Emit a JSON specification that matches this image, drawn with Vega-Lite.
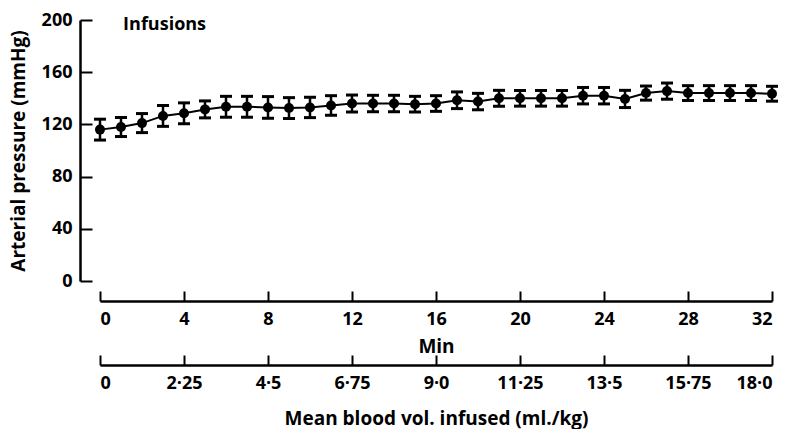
{
  "$schema": "https://vega.github.io/schema/vega-lite/v6.json",
  "width": 672,
  "height": 261,
  "autosize": {"type": "none"},
  "padding": {"left": 100, "top": 20, "right": 15, "bottom": 148},
  "background": "white",
  "config": {
    "view": {"stroke": null},
    "font": "Open Sans",
    "axis": {
      "domainColor": "black", "domainWidth": 2.5, "tickColor": "black", "tickWidth": 2,
      "labelColor": "black", "titleColor": "black", "labelFont": "Open Sans", "titleFont": "Open Sans",
      "labelFontSize": 18, "titleFontSize": 19, "labelFontWeight": "bold", "titleFontWeight": "bold",
      "grid": false
    }
  },
  "data": {
    "values": [
      {"t": 0, "mean": 116, "se": 8},
      {"t": 1, "mean": 118, "se": 7.3},
      {"t": 2, "mean": 121, "se": 7.3},
      {"t": 3, "mean": 126.5, "se": 8},
      {"t": 4, "mean": 128.5, "se": 8},
      {"t": 5, "mean": 131.5, "se": 6.5},
      {"t": 6, "mean": 133.5, "se": 8},
      {"t": 7, "mean": 133.5, "se": 8},
      {"t": 8, "mean": 133, "se": 8.3},
      {"t": 9, "mean": 132.5, "se": 8},
      {"t": 10, "mean": 133, "se": 7.8},
      {"t": 11, "mean": 134.5, "se": 7.5},
      {"t": 12, "mean": 136, "se": 6.5},
      {"t": 13, "mean": 136, "se": 6.3},
      {"t": 14, "mean": 136, "se": 6.3},
      {"t": 15, "mean": 135.5, "se": 6},
      {"t": 16, "mean": 136, "se": 6},
      {"t": 17, "mean": 138.5, "se": 6.4},
      {"t": 18, "mean": 137.5, "se": 6.3},
      {"t": 19, "mean": 140, "se": 6.1},
      {"t": 20, "mean": 140, "se": 6},
      {"t": 21, "mean": 140, "se": 6},
      {"t": 22, "mean": 140, "se": 6},
      {"t": 23, "mean": 142, "se": 6.3},
      {"t": 24, "mean": 142, "se": 6.3},
      {"t": 25, "mean": 139.5, "se": 6.6},
      {"t": 26, "mean": 144, "se": 5.4},
      {"t": 27, "mean": 145.5, "se": 6.2},
      {"t": 28, "mean": 144, "se": 5.7},
      {"t": 29, "mean": 144, "se": 5.7},
      {"t": 30, "mean": 144, "se": 5.7},
      {"t": 31, "mean": 144, "se": 5.7},
      {"t": 32, "mean": 143.5, "se": 5.7}
    ]
  },
  "encoding": {
    "y": {"field": "mean", "type": "quantitative", "scale": {"domain": [0, 200], "nice": false},
      "axis": {"values": [0, 40, 80, 120, 160, 200], "offset": 20, "tickSize": -12, "labelPadding": 20, "title": "Arterial pressure (mmHg)", "titlePadding": 13}}
  },
  "resolve": {"axis": {"x": "independent"}},
  "layer": [
    {
      "mark": {"type": "errorbar", "color": "black", "opacity": 1, "thickness": 2.5,
        "rule": {"color": "black", "opacity": 1, "strokeWidth": 2.5},
        "ticks": {"size": 12, "thickness": 3, "color": "black", "opacity": 1}},
      "encoding": {
        "x": {"field": "t", "type": "quantitative", "scale": {"domain": [0, 32], "nice": false}, "axis": null},
        "yError": {"field": "se"}
      }
    },
    {
      "mark": {"type": "line", "color": "black", "strokeWidth": 2},
      "encoding": {
        "x": {"field": "t", "type": "quantitative", "scale": {"domain": [0, 32], "nice": false},
          "axis": {"values": [0, 4, 8, 12, 16, 20, 24, 28, 32], "offset": 20, "tickSize": -10, "labelPadding": 19, "title": "Min", "titlePadding": 9}}
      }
    },
    {
      "mark": {"type": "point", "shape": "circle", "filled": true, "color": "black", "size": 100, "opacity": 1},
      "encoding": {
        "x": {"field": "t", "type": "quantitative", "axis": null}
      }
    },
    {
      "mark": {"type": "point", "opacity": 0},
      "encoding": {
        "x": {"field": "t", "type": "quantitative",
          "axis": {"orient": "bottom", "values": [0, 4, 8, 12, 16, 20, 24, 28, 32], "offset": 84, "tickSize": -10, "labelPadding": 19, "titlePadding": 17,
            "title": "Mean blood vol. infused (ml./kg)",
            "labelExpr": "datum.value == 0 ? '0' : replace((datum.value * 0.5625) % 1 == 0 ? format(datum.value * 0.5625, '.1f') : format(datum.value * 0.5625, '.2~f'), '.', '·')"}}
      }
    },
    {
      "data": {"values": [{"t": 1.1, "mean": 196, "label": "Infusions"}]},
      "mark": {"type": "text", "align": "left", "baseline": "middle", "fontSize": 18, "fontWeight": "bold", "font": "Open Sans", "color": "black"},
      "encoding": {
        "x": {"field": "t", "type": "quantitative", "axis": null},
        "text": {"field": "label"}
      }
    }
  ]
}
